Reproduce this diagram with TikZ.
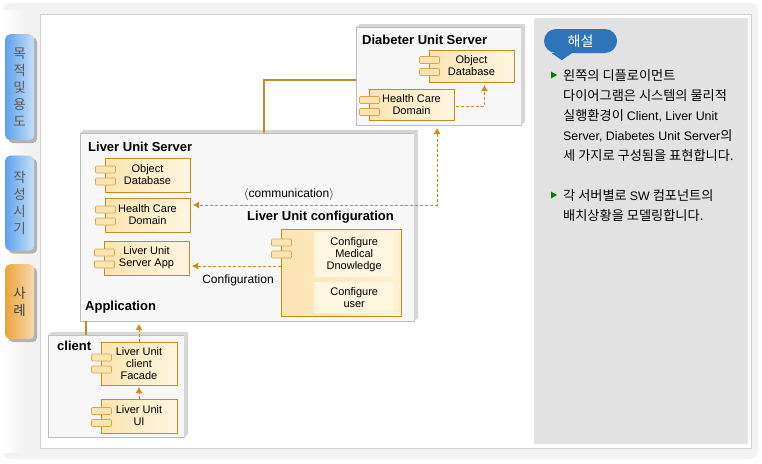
\documentclass[tikz,border=0pt]{standalone}
\usepackage{fontspec}
\setmainfont{Liberation Sans}
\newfontfamily\krfont{Noto Sans CJK KR}
\usetikzlibrary{arrows.meta,calc,positioning,shadows,shapes.geometric}
\definecolor{unitline}{HTML}{C98A1E}
\definecolor{unitfill}{HTML}{FBE4B2}
\definecolor{unitlight}{HTML}{FFF6E0}
\definecolor{portline}{HTML}{D8A54C}
\definecolor{nodegray}{HTML}{BDBDBD}
\definecolor{nodeback}{HTML}{D6D6D6}
\definecolor{notegray}{HTML}{E2E2E2}
\definecolor{noteblue}{HTML}{2E74B8}
\definecolor{tabblue}{HTML}{5EA2EA}
\definecolor{taborange}{HTML}{E9A43A}
\newcommand{\ports}[2]{%
  \node[port] (#1p1) at ($(#1.north west)+(0.5pt,-#2pt)$) {};
  \node[port,below=5pt of #1p1] (#1p2) {};
}
\newcommand{\backside}[1]{%
  \fill[nodeback] (#1.north west) -- ++(4pt,3pt) -- ($(#1.north east)+(4pt,3pt)$)
    -- ($(#1.south east)+(4pt,3pt)$) -- (#1.south east) -- (#1.north east) -- cycle;
}
\newcommand{\lat}[1]{{\rmfamily\fontsize{12.4}{20}\selectfont #1}}
\begin{document}
\begin{tikzpicture}[
      x=1pt,y=-1pt,
      font=\fontsize{11}{12}\selectfont,
      server/.style={draw=nodegray,fill=black!3,anchor=north west,inner sep=0pt,outer sep=0pt},
      unit/.style={draw=unitline,semithick,left color=unitfill,right color=unitlight,
        minimum width=85pt,minimum height=33pt,align=center,inner sep=0pt,outer sep=0pt},
      port/.style={draw=portline,fill=unitfill,rounded corners=1pt,semithick,
        minimum width=20pt,minimum height=7pt,inner sep=0pt,outer sep=0pt},
      inner/.style={fill=unitlight,minimum width=80pt,align=center,inner sep=0pt,anchor=north west},
      title/.style={font=\fontsize{13}{14}\selectfont\bfseries,inner sep=0pt,anchor=west},
      sidetab/.style={rounded corners=5pt,minimum width=29pt,anchor=north west,inner sep=0pt,
        align=center,text=black!65,font=\krfont\fontsize{13.5}{17}\selectfont,
        drop shadow={shadow xshift=3pt,shadow yshift=-3pt,fill=black!30,opacity=1}},
      note/.style={font=\krfont\fontsize{13.2}{20}\selectfont,align=left,anchor=north west,inner sep=0pt},
      bullet/.style={isosceles triangle,isosceles triangle apex angle=60,fill=green!50!black,
        minimum size=6pt,inner sep=0pt},
      link/.style={draw=unitline,line width=1.6pt},
      dep/.style={-{Latex[length=6pt,width=7pt]},draw=unitline,densely dashed,line width=0.9pt,shorten >=3pt}
    ]
    \useasboundingbox (0,0) rectangle (762,463);
    \fill[black!5,rounded corners=8pt] (3,3) rectangle (758,459);
    \path[left color=white,right color=black!5] (3,10) rectangle (24,452);
    \node[draw=black!18,fill=white,minimum width=711pt,minimum height=434pt,anchor=north west,
      inner sep=0pt] (page) at (40,14) {};
    \node[fill=notegray,minimum width=214pt,minimum height=426pt,anchor=north west,inner sep=0pt]
      (panel) at (534,18) {};

    \node[sidetab,left color=tabblue,right color=tabblue!35,minimum height=106pt] (purpose) at (5,34)
      {목\\적\\및\\용\\도};
    \node[sidetab,left color=tabblue,right color=tabblue!35,minimum height=95pt,below=15pt of purpose.south west,anchor=north west]
      (period) {작\\성\\시\\기};
    \node[sidetab,left color=taborange,right color=taborange!40,minimum height=75pt,text=black!75] (sample) at (5,264)
      {사\\례};

    \node[server,minimum width=165pt,minimum height=98pt] (dus) at (356,27) {};
    \backside{dus}
    \node[server,minimum width=334pt,minimum height=188pt] (lus) at (80,133) {};
    \backside{lus}
    \node[server,minimum width=136pt,minimum height=102pt] (cli) at (48,335) {};
    \backside{cli}

    \node[title] (dustitle) at (362,40) {Diabeter Unit Server};
    \node[title] (lustitle) at (88,147) {Liver Unit Server};
    \node[title] (apptitle) at (85,307) {Application};
    \node[title] (cfgtitle) at (247,217) {Liver Unit configuration};
    \node[title] (clititle) at (57,346) {client};

    \node[unit,anchor=north west,minimum height=32pt] (ddb) at (429,50) {Object\\Database};
    \node[unit,anchor=north west,minimum height=31pt] (dhc) at (369,89) {Health Care\\Domain};
    \node[unit,anchor=north west,minimum height=34pt] (ldb) at (105,158) {Object\\Database};
    \node[unit,below=6pt of ldb,minimum height=34pt] (lhc) {Health Care\\Domain};
    \node[unit,anchor=north west,minimum height=34pt] (lapp) at (104,241) {Liver Unit\\Server App};
    \node[unit,anchor=north west,minimum width=120pt,minimum height=87pt,right color=unitlight!70!unitfill] (cfg) at (281,229) {};
    \node[inner,minimum height=45pt] (cfgmed) at (314,232) {Configure\\Medical\\Dnowledge};
    \node[inner,minimum height=31pt,below=4pt of cfgmed.south west,anchor=north west] (cfgusr) {Configure\\user};
    \node[unit,anchor=north west,minimum width=76pt,minimum height=43pt] (cfa) at (101,342) {Liver Unit\\client\\Facade};
    \node[unit,below=14pt of cfa,minimum width=76pt,minimum height=34pt] (cui) {Liver Unit\\UI};

    \foreach \n/\o in {ddb/10,dhc/11,ldb/11.5,lhc/11.5,lapp/11.5,cfg/13.5,cfa/15.5,cui/12}{
      \ports{\n}{\o}
    }

    \node[inner sep=0pt,font=\fontsize{12}{13}\selectfont] (commlabel) at (289,194) {$\langle$communication$\rangle$};
    \node[inner sep=0pt,font=\fontsize{12}{13}\selectfont] (cfglabel) at (238,280) {Configuration};

    \draw[link] ([xshift=17pt]lus.north) |- ([yshift=-4pt]dus.west);
    \draw[link] ([xshift=6pt]lus.south west) -- ([xshift=38pt]cli.north west);
    \draw[dep] ([yshift=-2pt,xshift=2pt]dhc.east) -| ([xshift=13pt]ddb.south);
    \draw[dep,{Latex[length=6pt,width=7pt]}-{Latex[length=6pt,width=7pt]},shorten <=3pt]
      ([xshift=-1.5pt]dus.south) |- ([yshift=10pt]lhc.east);
    \draw[dep] ([yshift=6.5pt]cfg.west) -- ([yshift=-8pt]lapp.east);
    \draw[dep] (cfa.north) -- (cfa.north |- lus.south);
    \draw[dep,shorten >=2pt] (cui.north) -- (cfa.south);

    \node[fill=noteblue,rounded corners=12pt,minimum width=73pt,minimum height=24pt,inner sep=0pt,
      text=white,font=\krfont\fontsize{14}{15}\selectfont] (explain) at (580.5,41) {해설};
    \fill[noteblue] ([xshift=8pt]explain.south west) -- ([xshift=18pt,yshift=-7pt]explain.south west)
      -- ([xshift=28pt]explain.south west) -- cycle;

    \node[bullet] (mark1) at (553,75) {};
    \node[note] (note1) at (563,69)
      {왼쪽의 디플로이먼트\\다이어그램은 시스템의 물리적\\실행환경이 \lat{Client, Liver Unit}\\\lat{Server, Diabetes Unit Server}의\\세 가지로 구성됨을 표현합니다.};
    \node[bullet] (mark2) at (553,195) {};
    \node[note] (note2) at (563,189) {각 서버별로 \lat{SW} 컴포넌트의\\배치상황을 모델링합니다.};
  \end{tikzpicture}
\end{document}
